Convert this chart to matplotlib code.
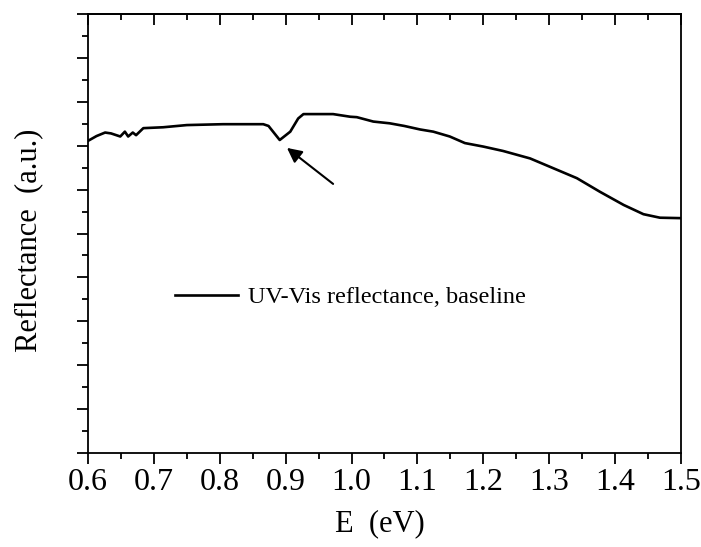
import matplotlib
matplotlib.use("Agg")
import matplotlib.pyplot as plt
from matplotlib.ticker import MultipleLocator, NullFormatter

plt.rcParams['font.family'] = ['Liberation Serif', 'DejaVu Serif']

energy = [0.600, 0.613, 0.626, 0.635, 0.649, 0.656, 0.661, 0.668, 0.673, 0.684,
          0.714, 0.750, 0.805, 0.866, 0.874, 0.883, 0.891, 0.907, 0.919, 0.927,
          0.942, 0.972, 0.998, 1.008, 1.033, 1.058, 1.080, 1.104, 1.124, 1.149,
          1.172, 1.200, 1.230, 1.271, 1.301, 1.342, 1.377, 1.413, 1.443, 1.468,
          1.500]
reflectance = [0.711, 0.722, 0.730, 0.728, 0.721, 0.732, 0.721, 0.730, 0.724, 0.740,
               0.742, 0.747, 0.749, 0.749, 0.745, 0.728, 0.713, 0.732, 0.762, 0.772,
               0.772, 0.772, 0.766, 0.765, 0.755, 0.751, 0.745, 0.737, 0.732, 0.721,
               0.706, 0.698, 0.688, 0.671, 0.652, 0.626, 0.595, 0.565, 0.544, 0.536,
               0.535]
series_label = "UV-Vis reflectance, baseline"
x_ticks = [0.6, 0.7, 0.8, 0.9, 1.0, 1.1, 1.2, 1.3, 1.4, 1.5]
arrow_tip = (0.902, 0.695)
arrow_tail = (0.972, 0.613)

fig = plt.figure(figsize=(7.01, 5.47), dpi=100)
ax = fig.add_axes([0.1255, 0.1718, 0.8460, 0.8026])
ax.plot(energy, reflectance, color='black', lw=1.9, label=series_label)
ax.set_xlim(0.6, 1.5)
ax.set_ylim(0, 1)
ax.set_xticks(x_ticks)
ax.set_xticklabels([f"{t:.1f}" for t in x_ticks])
ax.xaxis.set_minor_locator(MultipleLocator(0.05))
ax.yaxis.set_major_locator(MultipleLocator(0.1))
ax.yaxis.set_minor_locator(MultipleLocator(0.05))
ax.yaxis.set_major_formatter(NullFormatter())
ax.tick_params(axis='x', which='both', direction='out', top=False, labelsize=23, pad=3)
ax.tick_params(axis='y', which='both', direction='out', right=False)
ax.tick_params(which='major', length=8, width=1.3)
ax.tick_params(which='minor', length=4, width=1.3)
for s in ax.spines.values():
    s.set_linewidth(1.3)

top = ax.secondary_xaxis('top')
top.set_xticks(x_ticks)
top.xaxis.set_minor_locator(MultipleLocator(0.05))
top.tick_params(which='both', direction='in', labeltop=False, width=1.3)
top.tick_params(which='major', length=8)
top.tick_params(which='minor', length=4)
top.spines['top'].set_linewidth(1.3)

ax.set_xlabel("E  (eV)", fontsize=22)
ax.xaxis.set_label_coords(0.493, -0.128)
ax.set_ylabel("Reflectance  (a.u.)", fontsize=22)
ax.yaxis.set_label_coords(-0.076, 0.485)

ax.annotate("", xy=arrow_tip, xytext=arrow_tail,
            arrowprops=dict(arrowstyle='-|>', color='black', lw=1.5,
                            mutation_scale=22, shrinkA=0, shrinkB=0))

ax.legend(loc='center left', bbox_to_anchor=(0.11, 0.355), frameon=False,
          fontsize=17.5, handlelength=2.6, handletextpad=0.4)

fig.savefig("out.png", dpi=100)
